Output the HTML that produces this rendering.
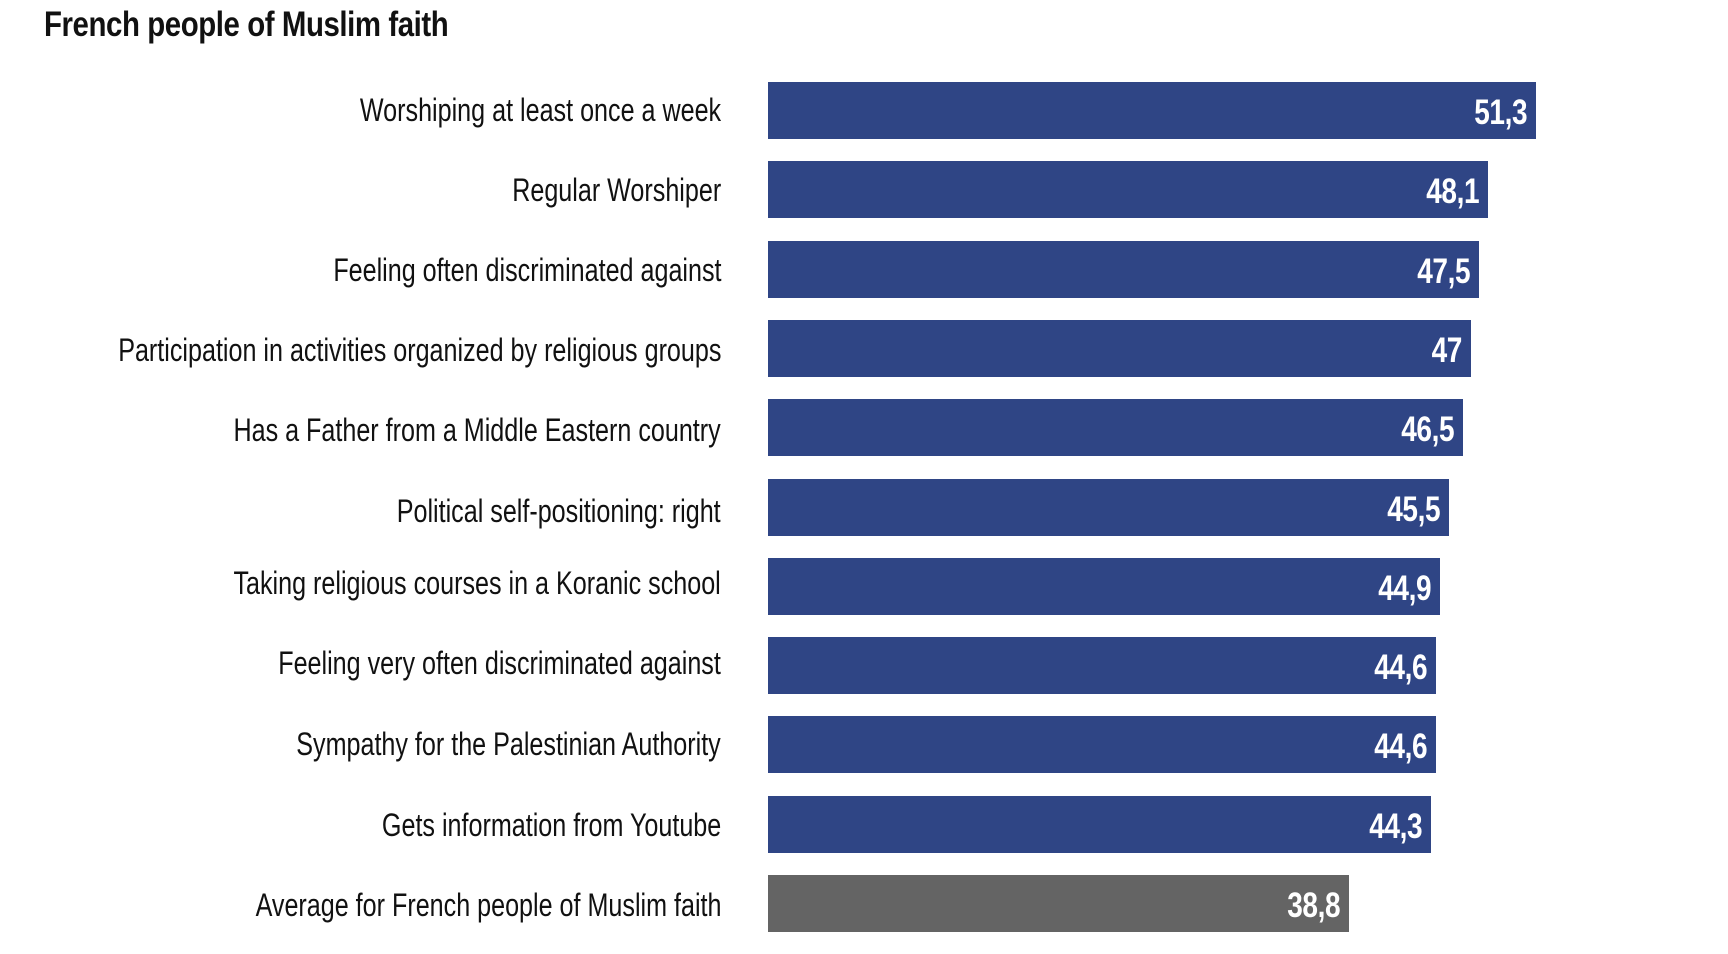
<!DOCTYPE html>
<html><head><style>
body{margin:0;width:1728px;height:954px;background:#fff;position:relative;overflow:hidden;font-family:"Liberation Sans Narrow","Liberation Sans",sans-serif;}
.t{position:absolute;left:44px;top:5px;font-size:35px;font-weight:bold;color:#111;letter-spacing:-0.5px;transform:scaleX(0.84);transform-origin:left center;white-space:nowrap}
.l{position:absolute;right:1007px;font-size:32px;color:#111;line-height:58px;white-space:nowrap;transform:scaleX(0.785);transform-origin:right center}
.b{position:absolute;left:768px;height:57px;background:#2f4585}
.b span{position:absolute;right:9px;top:2px;line-height:57px;color:#fff;font-weight:bold;font-size:35px;letter-spacing:-0.5px;transform:scaleX(0.8);transform-origin:right center}
</style></head><body>
<div class="t">French people of Muslim faith</div>
<div class="l" style="top:81px">Worshiping at least once a week</div>
<div class="b" style="top:82px;width:768px"><span>51,3</span></div>
<div class="l" style="top:161px">Regular Worshiper</div>
<div class="b" style="top:161px;width:720px"><span>48,1</span></div>
<div class="l" style="top:241px">Feeling often discriminated against</div>
<div class="b" style="top:241px;width:711px"><span>47,5</span></div>
<div class="l" style="top:321px">Participation in activities organized by religious groups</div>
<div class="b" style="top:320px;width:703px"><span>47</span></div>
<div class="l" style="top:401px">Has a Father from a Middle Eastern country</div>
<div class="b" style="top:399px;width:695px"><span>46,5</span></div>
<div class="l" style="top:482px">Political self-positioning: right</div>
<div class="b" style="top:479px;width:681px"><span>45,5</span></div>
<div class="l" style="top:554px">Taking religious courses in a Koranic school</div>
<div class="b" style="top:558px;width:672px"><span>44,9</span></div>
<div class="l" style="top:634px">Feeling very often discriminated against</div>
<div class="b" style="top:637px;width:668px"><span>44,6</span></div>
<div class="l" style="top:715px">Sympathy for the Palestinian Authority</div>
<div class="b" style="top:716px;width:668px"><span>44,6</span></div>
<div class="l" style="top:796px">Gets information from Youtube</div>
<div class="b" style="top:796px;width:663px"><span>44,3</span></div>
<div class="l" style="top:876px">Average for French people of Muslim faith</div>
<div class="b" style="top:875px;width:581px;background:#646464"><span>38,8</span></div>
</body></html>
